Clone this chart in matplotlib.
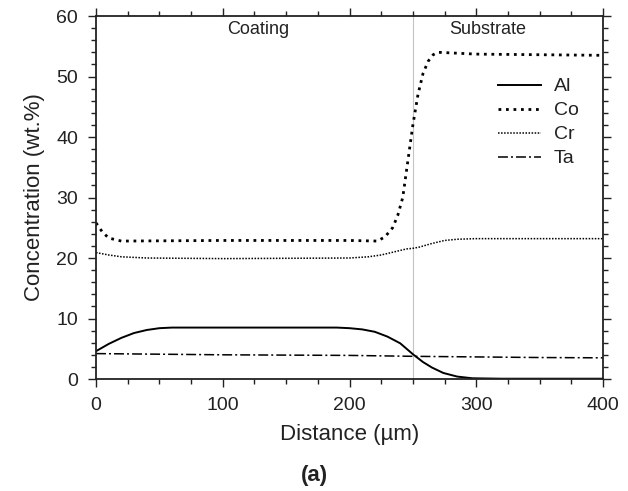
import matplotlib.pyplot as plt
from matplotlib.ticker import MultipleLocator

plt.rcParams['font.family'] = ['Liberation Sans', 'DejaVu Sans']

# Concentration profiles (distance in um, wt.%)
al_x = [0, 10, 20, 30, 40, 50, 60, 100, 150, 190, 200, 210, 220, 230, 240, 250, 258, 265, 274, 285, 297, 320, 350, 400]
al_y = [4.6, 5.8, 6.8, 7.6, 8.1, 8.4, 8.5, 8.5, 8.5, 8.5, 8.4, 8.2, 7.8, 7.0, 5.9, 4.1, 2.8, 1.9, 1.0, 0.4, 0.12, 0.05, 0.05, 0.05]

co_x = [0, 5, 10, 20, 100, 200, 222, 228, 234, 238, 242, 246, 250, 254, 258, 262, 266, 270, 280, 300, 400]
co_y = [25.8, 24.3, 23.3, 22.8, 22.9, 22.9, 22.8, 23.5, 25.0, 27.0, 30.0, 36.0, 42.0, 47.0, 50.5, 52.5, 53.6, 54.0, 53.9, 53.7, 53.5]

cr_x = [0, 10, 20, 40, 100, 200, 215, 225, 235, 245, 250, 255, 265, 275, 285, 300, 400]
cr_y = [20.9, 20.5, 20.2, 20.0, 19.9, 20.0, 20.2, 20.5, 21.0, 21.5, 21.6, 21.8, 22.4, 22.9, 23.1, 23.2, 23.2]

ta_x = [0, 50, 100, 150, 200, 250, 300, 350, 400]
ta_y = [4.2, 4.1, 4.0, 3.95, 3.9, 3.75, 3.65, 3.55, 3.5]

boundary = 250

fig = plt.figure(figsize=(6.28, 4.91), dpi=100)
ax = fig.add_axes([0.1529, 0.2281, 0.8073, 0.7393])

ax.axvline(boundary, color='#c4c4c4', lw=0.8, zorder=1)

ax.plot(al_x, al_y, color='black', lw=1.4, ls='-', label='Al')
ax.plot(co_x, co_y, color='black', lw=2.0, ls=(0, (1.0, 1.7)), label='Co')
ax.plot(cr_x, cr_y, color='black', lw=1.1, ls=(0, (1.0, 1.0)), label='Cr')
ax.plot(ta_x, ta_y, color='black', lw=1.1, ls=(0, (6.5, 2, 1.3, 2)), label='Ta')

ax.set_xlim(0, 400)
ax.set_ylim(0, 60)
ax.xaxis.set_major_locator(MultipleLocator(100))
ax.xaxis.set_minor_locator(MultipleLocator(25))
ax.yaxis.set_major_locator(MultipleLocator(10))
ax.yaxis.set_minor_locator(MultipleLocator(2))
ax.tick_params(which='both', direction='out', top=True, right=True, labelsize=14,
               width=1.0, colors='#222222', pad=7)
ax.tick_params(which='major', length=6)
ax.tick_params(which='minor', length=3.5)
for sp in ax.spines.values():
    sp.set_linewidth(1.3)
    sp.set_color('#222222')

ax.set_xlabel('Distance (µm)', fontsize=16, color='#222222', labelpad=7)
ax.set_ylabel('Concentration (wt.%)', fontsize=16, color='#222222', labelpad=8)

ax.text(128, 57.7, 'Coating', ha='center', va='center', fontsize=13, color='#222222')
ax.text(309, 57.7, 'Substrate', ha='center', va='center', fontsize=13, color='#222222')

ax.legend(loc='upper left', bbox_to_anchor=(0.759, 0.878), frameon=False, fontsize=14,
          handlelength=2.2, labelspacing=0.33, handletextpad=0.65, labelcolor='#222222')

fig.text(0.5, 1 - 476 / 491, '(a)', ha='center', va='center', fontsize=16,
         fontweight='bold', color='#222222')

fig.savefig('out.png', dpi=100)
